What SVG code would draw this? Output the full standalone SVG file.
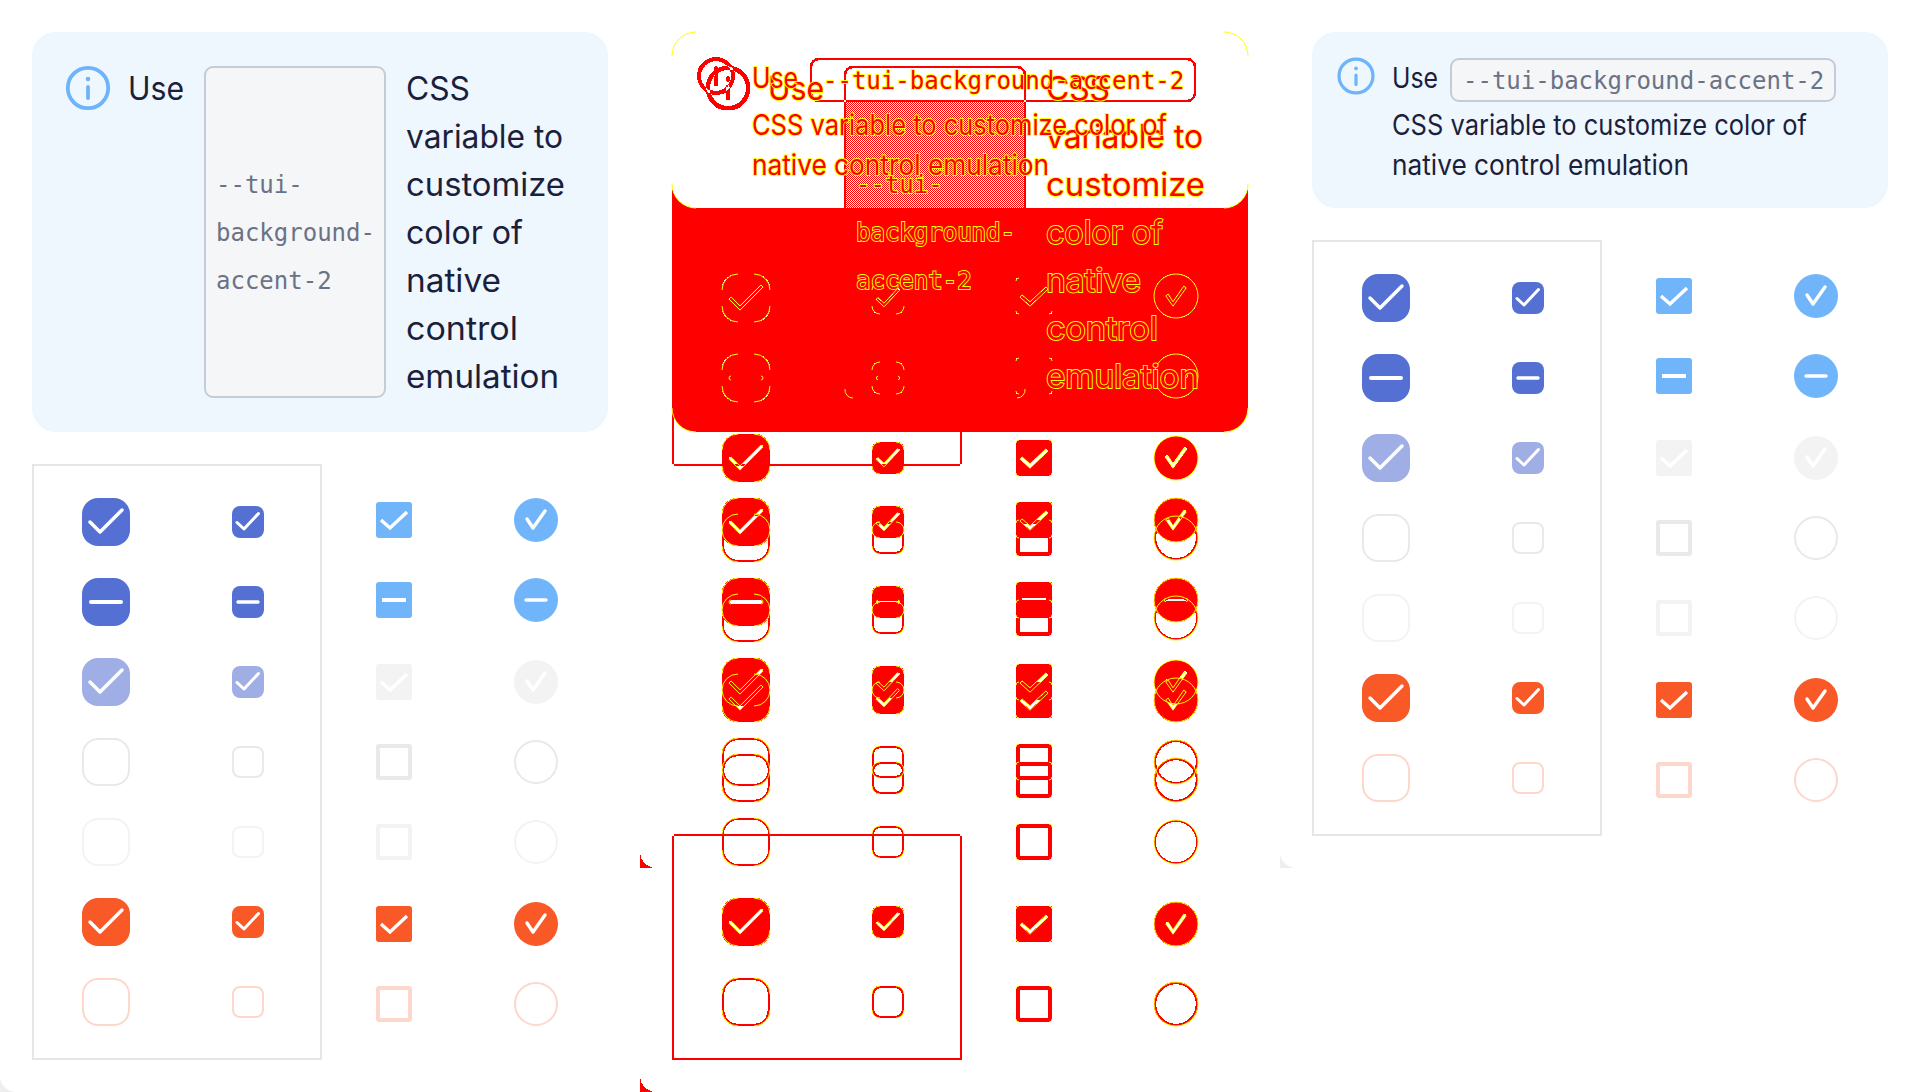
<svg xmlns="http://www.w3.org/2000/svg" xmlns:xlink="http://www.w3.org/1999/xlink" width="1920" height="1092" viewBox="0 0 1920 1092">
<style>
text{white-space:pre}
.b{font-family:"Inter","Noto Sans",sans-serif;fill:#1b1f3b}
.s32{font-size:32px}.s28{font-size:28px}
.m{font-family:"DejaVu Sans Mono","Liberation Mono",monospace;font-size:24px;fill:#6b7285}
.d{fill:#f00;stroke:#ff0;stroke-width:1.8;paint-order:stroke}
.blue{fill:#5570d3}.lite{fill:#a0aee6}.sky{fill:#70b5f9}.dis{fill:#f3f3f3}.org{fill:#f95827}
.o{fill:none}
.ogray{stroke:#e9e9ea}.olite{stroke:#f3f3f4}.oorg{stroke:#fdd7cb}
.ck{fill:none;stroke:#fff;stroke-linecap:round;stroke-linejoin:round}
.y{fill:none;stroke:#ff0;stroke-width:1}
.panel{fill:#eef6fe}
.code{fill:#f4f6f8;stroke:#c6ccd6;stroke-width:2}
.ic{fill:none;stroke:#6db4fa;stroke-width:3.8;stroke-linecap:round}
</style>
<defs>
<pattern id="dith" width="2" height="2" patternUnits="userSpaceOnUse"><rect width="1" height="1" fill="#f00"/><rect x="1" y="1" width="1" height="1" fill="#f00"/></pattern>
<filter id="xor" filterUnits="userSpaceOnUse" x="0" y="0" width="640" height="1092" color-interpolation-filters="sRGB">
<feColorMatrix type="matrix" values="0 0 0 0 1  6.4 6.4 6.4 0 0  6.4 6.4 6.4 0 0  0 0 0 0 1"/>
<feComponentTransfer><feFuncG type="discrete" tableValues="1 0"/><feFuncB type="discrete" tableValues="1 0"/></feComponentTransfer>
</filter>
<rect id="b1" x="-24" y="-24" width="48" height="48" rx="16"/>
<rect id="b2" x="-16" y="-16" width="32" height="32" rx="8"/>
<rect id="b3" x="-18" y="-18" width="36" height="36" rx="3"/>
<circle id="b4" r="22"/>
<rect id="o1" x="-23" y="-23" width="46" height="46" rx="15" stroke-width="2" fill="none"/>
<rect id="o2" x="-15" y="-15" width="30" height="30" rx="7" stroke-width="2" fill="none"/>
<rect id="o3" x="-16" y="-16" width="32" height="32" rx="1" stroke-width="4" fill="none"/>
<circle id="o4" r="21" stroke-width="2" fill="none"/>
<path id="k1" class="ck" stroke-width="3.5" d="M-16,0L-6,10L16,-12"/>
<path id="k2" class="ck" stroke-width="3" d="M-11,.5L-4,7L10.5,-8.5"/>
<path id="k3" d="M-13,0L-4,8L13,-8" fill="none" stroke="#fff" stroke-width="3.4"/>
<path id="k4" class="ck" stroke-width="3.4" d="M-9,-1L-3,8L9,-9"/>
<path id="n1" class="ck" stroke-width="4" d="M-15,0H15"/>
<path id="n2" class="ck" stroke-width="3.4" d="M-10,0H10"/>
<path id="n3" d="M-12,0H12" fill="none" stroke="#fff" stroke-width="4"/>
<path id="n4" class="ck" stroke-width="3.4" d="M-10,0H10"/>
<g id="grid">
<rect x="33" y="465" width="288" height="594" fill="none" stroke="#e6e6e6" stroke-width="2"/>
<g id="col-large">
<g id="l1"><use href="#b1" class="blue" x="106" y="522"/><use href="#k1" x="106" y="522"/></g>
<g id="l2"><use href="#b1" class="blue" x="106" y="602"/><use href="#n1" x="106" y="602"/></g>
<g id="l3"><use href="#b1" class="lite" x="106" y="682"/><use href="#k1" x="106" y="682"/></g>
<use id="l4" href="#o1" class="ogray" x="106" y="762"/>
<use id="l5" href="#o1" class="olite" x="106" y="842"/>
<g id="l6"><use href="#b1" class="org" x="106" y="922"/><use href="#k1" x="106" y="922"/></g>
<use id="l7" href="#o1" class="oorg" x="106" y="1002"/>
</g>
<g id="col-small">
<g id="s1"><use href="#b2" class="blue" x="248" y="522"/><use href="#k2" x="248" y="522"/></g>
<g id="s2"><use href="#b2" class="blue" x="248" y="602"/><use href="#n2" x="248" y="602"/></g>
<g id="s3"><use href="#b2" class="lite" x="248" y="682"/><use href="#k2" x="248" y="682"/></g>
<use id="s4" href="#o2" class="ogray" x="248" y="762"/>
<use id="s5" href="#o2" class="olite" x="248" y="842"/>
<g id="s6"><use href="#b2" class="org" x="248" y="922"/><use href="#k2" x="248" y="922"/></g>
<use id="s7" href="#o2" class="oorg" x="248" y="1002"/>
</g>
<g id="col-square">
<g id="q1"><use href="#b3" class="sky" x="394" y="520"/><use href="#k3" x="394" y="520"/></g>
<g id="q2"><use href="#b3" class="sky" x="394" y="600"/><use href="#n3" x="394" y="600"/></g>
<g id="q3"><use href="#b3" class="dis" x="394" y="682"/><use href="#k3" x="394" y="682"/></g>
<use id="q4" href="#o3" class="ogray" x="394" y="762"/>
<use id="q5" href="#o3" class="olite" x="394" y="842"/>
<g id="q6"><use href="#b3" class="org" x="394" y="924"/><use href="#k3" x="394" y="924"/></g>
<use id="q7" href="#o3" class="oorg" x="394" y="1004"/>
</g>
<g id="col-round">
<g id="r1"><use href="#b4" class="sky" x="536" y="520"/><use href="#k4" x="536" y="520"/></g>
<g id="r2"><use href="#b4" class="sky" x="536" y="600"/><use href="#n4" x="536" y="600"/></g>
<g id="r3"><use href="#b4" class="dis" x="536" y="682"/><use href="#k4" x="536" y="682"/></g>
<use id="r4" href="#o4" class="ogray" x="536" y="762"/>
<use id="r5" href="#o4" class="olite" x="536" y="842"/>
<g id="r6"><use href="#b4" class="org" x="536" y="924"/><use href="#k4" x="536" y="924"/></g>
<use id="r7" href="#o4" class="oorg" x="536" y="1004"/>
</g>
</g>
<g id="icon"><circle r="20.2" class="ic"/><path class="ic" d="M0,-1V10"/><circle cy="-9" r="2.2" fill="#6db4fa"/></g>
<g id="sceneA">
<rect width="640" height="1092" fill="#fff"/>
<path d="M0,1076A16,16 0 0 0 16,1092H0Z" fill="#eee"/>
<rect class="panel" x="32" y="32" width="576" height="400" rx="24"/>
<use href="#icon" x="88" y="88"/>
<rect class="code" x="205" y="67" width="180" height="330" rx="8"/>
<use href="#grid"/>
</g>
<g id="sceneB">
<rect width="640" height="1092" fill="#fff"/>
<path d="M0,852A16,16 0 0 0 16,868H0Z" fill="#eee"/>
<rect class="panel" x="32" y="32" width="576" height="176" rx="24"/>
<use href="#icon" transform="translate(76,76) scale(.84)"/>
<rect class="code" x="171" y="59" width="384" height="42" rx="8"/>
<use href="#grid" y="-224"/>
</g>
<path id="y1" class="y" d="M-24,-8A16,16 0 0 1 -8,-24M8,-24A16,16 0 0 1 24,-8M24,8A16,16 0 0 1 8,24M-8,24A16,16 0 0 1 -24,8"/>
<path id="y2" class="y" d="M-16,-8A8,8 0 0 1 -8,-16M8,-16A8,8 0 0 1 16,-8M16,8A8,8 0 0 1 8,16M-8,16A8,8 0 0 1 -16,8"/>
<path id="y3" class="y" d="M-18,-15A3,3 0 0 1 -15,-18M15,-18A3,3 0 0 1 18,-15M18,15A3,3 0 0 1 15,18M-15,18A3,3 0 0 1 -18,15"/>
<circle id="y4" class="y" r="22"/>
<path id="p1" class="y" d="M-17.06,1.06L-6,12.12L17.06,-10.94L14.94,-13.06L-6,7.88L-14.94,-1.06Z"/>
<path id="p2" class="y" d="M-11.88,1.45L-4,8.85L11.45,-7.61L9.55,-9.39L-4,5.15L-10.12,-.45Z"/>
<path id="p3" class="y" d="M-14,1.12L-4,10.2L14.03,-6.91L11.97,-9.09L-4,5.8L-12,-1.12Z"/>
<path id="p4" class="y" d="M-10.25,-.17L-3,10.2L10.23,-8.13L7.77,-9.87L-3,5.8L-7.75,-1.83Z"/>
<path id="m1" class="y" d="M-15,-2A2,2 0 0 0 -15,2M15,-2A2,2 0 0 1 15,2"/>
<path id="m2" class="y" d="M-10,-1.7A1.7,1.7 0 0 0 -10,1.7M10,-1.7A1.7,1.7 0 0 1 10,1.7"/>
<g id="edges">
<use href="#y1" x="106" y="522"/><use href="#y1" x="106" y="602"/><use href="#y1" x="106" y="682"/><use href="#y1" x="106" y="762"/><use href="#y1" x="106" y="842"/><use href="#y1" x="106" y="922"/><use href="#y1" x="106" y="1002"/>
<use href="#y2" x="248" y="522"/><use href="#y2" x="248" y="602"/><use href="#y2" x="248" y="682"/><use href="#y2" x="248" y="762"/><use href="#y2" x="248" y="842"/><use href="#y2" x="248" y="922"/><use href="#y2" x="248" y="1002"/>
<use href="#y3" x="394" y="520"/><use href="#y3" x="394" y="600"/><use href="#y3" x="394" y="682"/><use href="#y3" x="394" y="762"/><use href="#y3" x="394" y="842"/><use href="#y3" x="394" y="924"/><use href="#y3" x="394" y="1004"/>
<use href="#y4" x="536" y="520"/><use href="#y4" x="536" y="600"/><use href="#y4" x="536" y="682"/><use href="#y4" x="536" y="762"/><use href="#y4" x="536" y="842"/><use href="#y4" x="536" y="924"/><use href="#y4" x="536" y="1004"/>
<use href="#p1" x="106" y="522"/><use href="#p1" x="106" y="682"/><use href="#p1" x="106" y="922"/>
<use href="#p2" x="248" y="522"/><use href="#p2" x="248" y="682"/><use href="#p2" x="248" y="922"/>
<use href="#p3" x="394" y="520"/><use href="#p3" x="394" y="682"/><use href="#p3" x="394" y="924"/>
<use href="#p4" x="536" y="520"/><use href="#p4" x="536" y="682"/><use href="#p4" x="536" y="924"/>
<use href="#m1" x="106" y="602"/><use href="#m2" x="248" y="602"/><use href="#m2" x="536" y="600"/>
</g>
</defs>

<rect width="1920" height="1092" fill="#fff"/>

<g id="page-before"><use href="#sceneA"/>
<g id="before-text">
<text class="b s32" x="128" y="100" textLength="56" lengthAdjust="spacingAndGlyphs">Use</text>
<text class="m" x="216" y="193">--tui-</text>
<text class="m" x="216" y="241">background-</text>
<text class="m" x="216" y="289">accent-2</text>
<text class="b s32" x="406" y="100" textLength="64" lengthAdjust="spacingAndGlyphs">CSS</text>
<text class="b s32" x="406" y="148" textLength="157" lengthAdjust="spacingAndGlyphs">variable to</text>
<text class="b s32" x="406" y="196" textLength="159" lengthAdjust="spacingAndGlyphs">customize</text>
<text class="b s32" x="406" y="244" textLength="117" lengthAdjust="spacingAndGlyphs">color of</text>
<text class="b s32" x="406" y="292" textLength="95" lengthAdjust="spacingAndGlyphs">native</text>
<text class="b s32" x="406" y="340" textLength="112" lengthAdjust="spacingAndGlyphs">control</text>
<text class="b s32" x="406" y="388" textLength="153" lengthAdjust="spacingAndGlyphs">emulation</text>
</g></g>

<g id="page-diff">
<g id="diff-shapes" transform="translate(640,0)" filter="url(#xor)" style="isolation:isolate"><use href="#sceneA"/><use href="#sceneB" style="mix-blend-mode:difference"/></g>
<g transform="translate(640,0)">
<rect id="diff-dither" x="206" y="102" width="179" height="106" fill="url(#dith)"/>
<use href="#edges"/><use href="#edges" y="-224"/>
<path class="y" d="M32,56A24,24 0 0 1 56,32M584,32A24,24 0 0 1 608,56M32,408A24,24 0 0 0 56,432M584,432A24,24 0 0 0 608,408M32,184A24,24 0 0 0 56,208M584,208A24,24 0 0 0 608,184M205,389A8,8 0 0 0 213,398M377,398A8,8 0 0 0 385,389"/>
<g id="diff-text-before">
<text class="b s32 d" x="128" y="100" textLength="56" lengthAdjust="spacingAndGlyphs">Use</text>
<text class="m d" x="216" y="193">--tui-</text>
<text class="m d" x="216" y="241">background-</text>
<text class="m d" x="216" y="289">accent-2</text>
<text class="b s32 d" x="406" y="100" textLength="64" lengthAdjust="spacingAndGlyphs">CSS</text>
<text class="b s32 d" x="406" y="148" textLength="157" lengthAdjust="spacingAndGlyphs">variable to</text>
<text class="b s32 d" x="406" y="196" textLength="159" lengthAdjust="spacingAndGlyphs">customize</text>
<text class="b s32 d" x="406" y="244" textLength="117" lengthAdjust="spacingAndGlyphs">color of</text>
<text class="b s32 d" x="406" y="292" textLength="95" lengthAdjust="spacingAndGlyphs">native</text>
<text class="b s32 d" x="406" y="340" textLength="112" lengthAdjust="spacingAndGlyphs">control</text>
<text class="b s32 d" x="406" y="388" textLength="153" lengthAdjust="spacingAndGlyphs">emulation</text>
</g>
<g id="diff-text-after">
<text class="b s28 d" x="112" y="88" textLength="46" lengthAdjust="spacingAndGlyphs">Use</text>
<text class="m d" x="183" y="89">--tui-background-accent-2</text>
<text class="b s28 d" x="112" y="135" textLength="415" lengthAdjust="spacingAndGlyphs">CSS variable to customize color of</text>
<text class="b s28 d" x="112" y="175" textLength="297" lengthAdjust="spacingAndGlyphs">native control emulation</text>
</g>
</g>
</g>

<g id="page-after" transform="translate(1280,0)"><use href="#sceneB"/>
<g id="after-text">
<text class="b s28" x="112" y="88" textLength="46" lengthAdjust="spacingAndGlyphs">Use</text>
<text class="m" x="183" y="89">--tui-background-accent-2</text>
<text class="b s28" x="112" y="135" textLength="415" lengthAdjust="spacingAndGlyphs">CSS variable to customize color of</text>
<text class="b s28" x="112" y="175" textLength="297" lengthAdjust="spacingAndGlyphs">native control emulation</text>
</g></g>
</svg>
